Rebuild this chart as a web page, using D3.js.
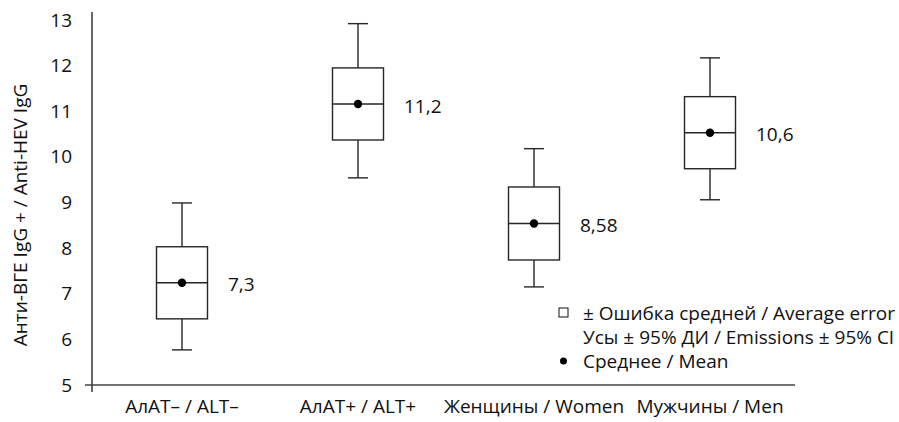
<!DOCTYPE html>
<html>
<head>
<meta charset="utf-8">
<script src="https://cdn.jsdelivr.net/npm/d3@7"></script>
<style>
  html, body { margin: 0; padding: 0; background: #fff; }
  svg text { font-family: "Open Sans", "Noto Sans", sans-serif; fill: #111; }
</style>
</head>
<body>
<svg id="chart" width="899" height="422"></svg>
<script>
const categories = ["АлАТ– / ALT–", "АлАТ+ / ALT+", "Женщины / Women", "Мужчины / Men"];
const means = [7.24, 11.16, 8.54, 10.53];
const meanLabels = ["7,3", "11,2", "8,58", "10,6"];
const boxLow = [6.45, 10.37, 7.74, 9.74];
const boxHigh = [8.03, 11.95, 9.34, 11.32];
const whiskerLow = [5.77, 9.54, 7.15, 9.06];
const whiskerHigh = [8.99, 12.92, 10.18, 12.17];
const yTicks = [5, 6, 7, 8, 9, 10, 11, 12, 13];
const yTitle = "Анти-ВГЕ IgG + / Anti-HEV IgG";
const legendItems = ["± Ошибка средней / Average error", "Усы ± 95% ДИ / Emissions ± 95% CI", "Среднее / Mean"];

const svg = d3.select("#chart");
const stroke = "#262626";
const fs = 19;

const x = d3.scaleBand().domain(categories).range([94, 798]);
const y = d3.scaleLinear().domain([5, 13]).range([385, 20]);

// axes lines
svg.append("line").attr("x1", 92).attr("x2", 92)
  .attr("y1", y(13) - 8).attr("y2", y(5) + 7)
  .attr("stroke", stroke).attr("stroke-width", 1.4);
svg.append("line").attr("x1", 85).attr("x2", 795)
  .attr("y1", y(5)).attr("y2", y(5))
  .attr("stroke", "#444").attr("stroke-width", 1.6);

// y tick labels
const yAxis = svg.append("g").attr("transform", "translate(92,0)")
  .call(d3.axisLeft(y).tickValues(yTicks).tickSize(0).tickPadding(20));
yAxis.select(".domain").remove();
yAxis.selectAll("text").style("font-size", fs + "px").style("font-family", '"Open Sans", sans-serif').attr("fill", "#111");

// x labels
const xAxis = svg.append("g").attr("transform", `translate(0,${y(5)})`)
  .call(d3.axisBottom(x).tickSize(0).tickPadding(15));
xAxis.select(".domain").remove();
xAxis.selectAll("text").style("font-size", fs + "px").style("font-family", '"Open Sans", sans-serif').attr("fill", "#111");

// y title
svg.append("text")
  .attr("transform", `translate(27,215) rotate(-90)`)
  .attr("text-anchor", "middle")
  .style("font-size", fs + "px")
  .text(yTitle);

const bw = 51, cap = 20;
const g = svg.append("g");
categories.forEach((c, i) => {
  const cx = x(c) + x.bandwidth() / 2;
  g.append("line").attr("x1", cx).attr("x2", cx).attr("y1", y(whiskerHigh[i])).attr("y2", y(boxHigh[i]))
    .attr("stroke", stroke).attr("stroke-width", 1.4);
  g.append("line").attr("x1", cx).attr("x2", cx).attr("y1", y(boxLow[i])).attr("y2", y(whiskerLow[i]))
    .attr("stroke", stroke).attr("stroke-width", 1.4);
  g.append("line").attr("x1", cx - cap/2).attr("x2", cx + cap/2).attr("y1", y(whiskerHigh[i])).attr("y2", y(whiskerHigh[i]))
    .attr("stroke", stroke).attr("stroke-width", 1.4);
  g.append("line").attr("x1", cx - cap/2).attr("x2", cx + cap/2).attr("y1", y(whiskerLow[i])).attr("y2", y(whiskerLow[i]))
    .attr("stroke", stroke).attr("stroke-width", 1.4);
  g.append("rect").attr("x", cx - bw/2).attr("y", y(boxHigh[i]))
    .attr("width", bw).attr("height", y(boxLow[i]) - y(boxHigh[i]))
    .attr("fill", "none").attr("stroke", stroke).attr("stroke-width", 1.4);
  g.append("line").attr("x1", cx - bw/2).attr("x2", cx + bw/2).attr("y1", y(means[i])).attr("y2", y(means[i]))
    .attr("stroke", stroke).attr("stroke-width", 1.4);
  g.append("circle").attr("cx", cx).attr("cy", y(means[i])).attr("r", 4.2).attr("fill", "#000");
  g.append("text").attr("x", cx + 46).attr("y", y(means[i]) + 2).attr("dy", "0.35em")
    .style("font-size", fs + "px").text(meanLabels[i]);
});

// legend
const lg = svg.append("g");
const lx = 583, ly = [313, 337, 361];
lg.append("rect").attr("x", 559).attr("y", ly[0] - 5).attr("width", 9).attr("height", 9)
  .attr("fill", "none").attr("stroke", stroke).attr("stroke-width", 1.1);
lg.append("circle").attr("cx", 563.5).attr("cy", ly[2]).attr("r", 3.5).attr("fill", "#000");
legendItems.forEach((t, i) => {
  lg.append("text").attr("x", lx).attr("y", ly[i]).attr("dy", "0.35em")
    .style("font-size", fs + "px").text(t);
});
</script>
</body>
</html>
